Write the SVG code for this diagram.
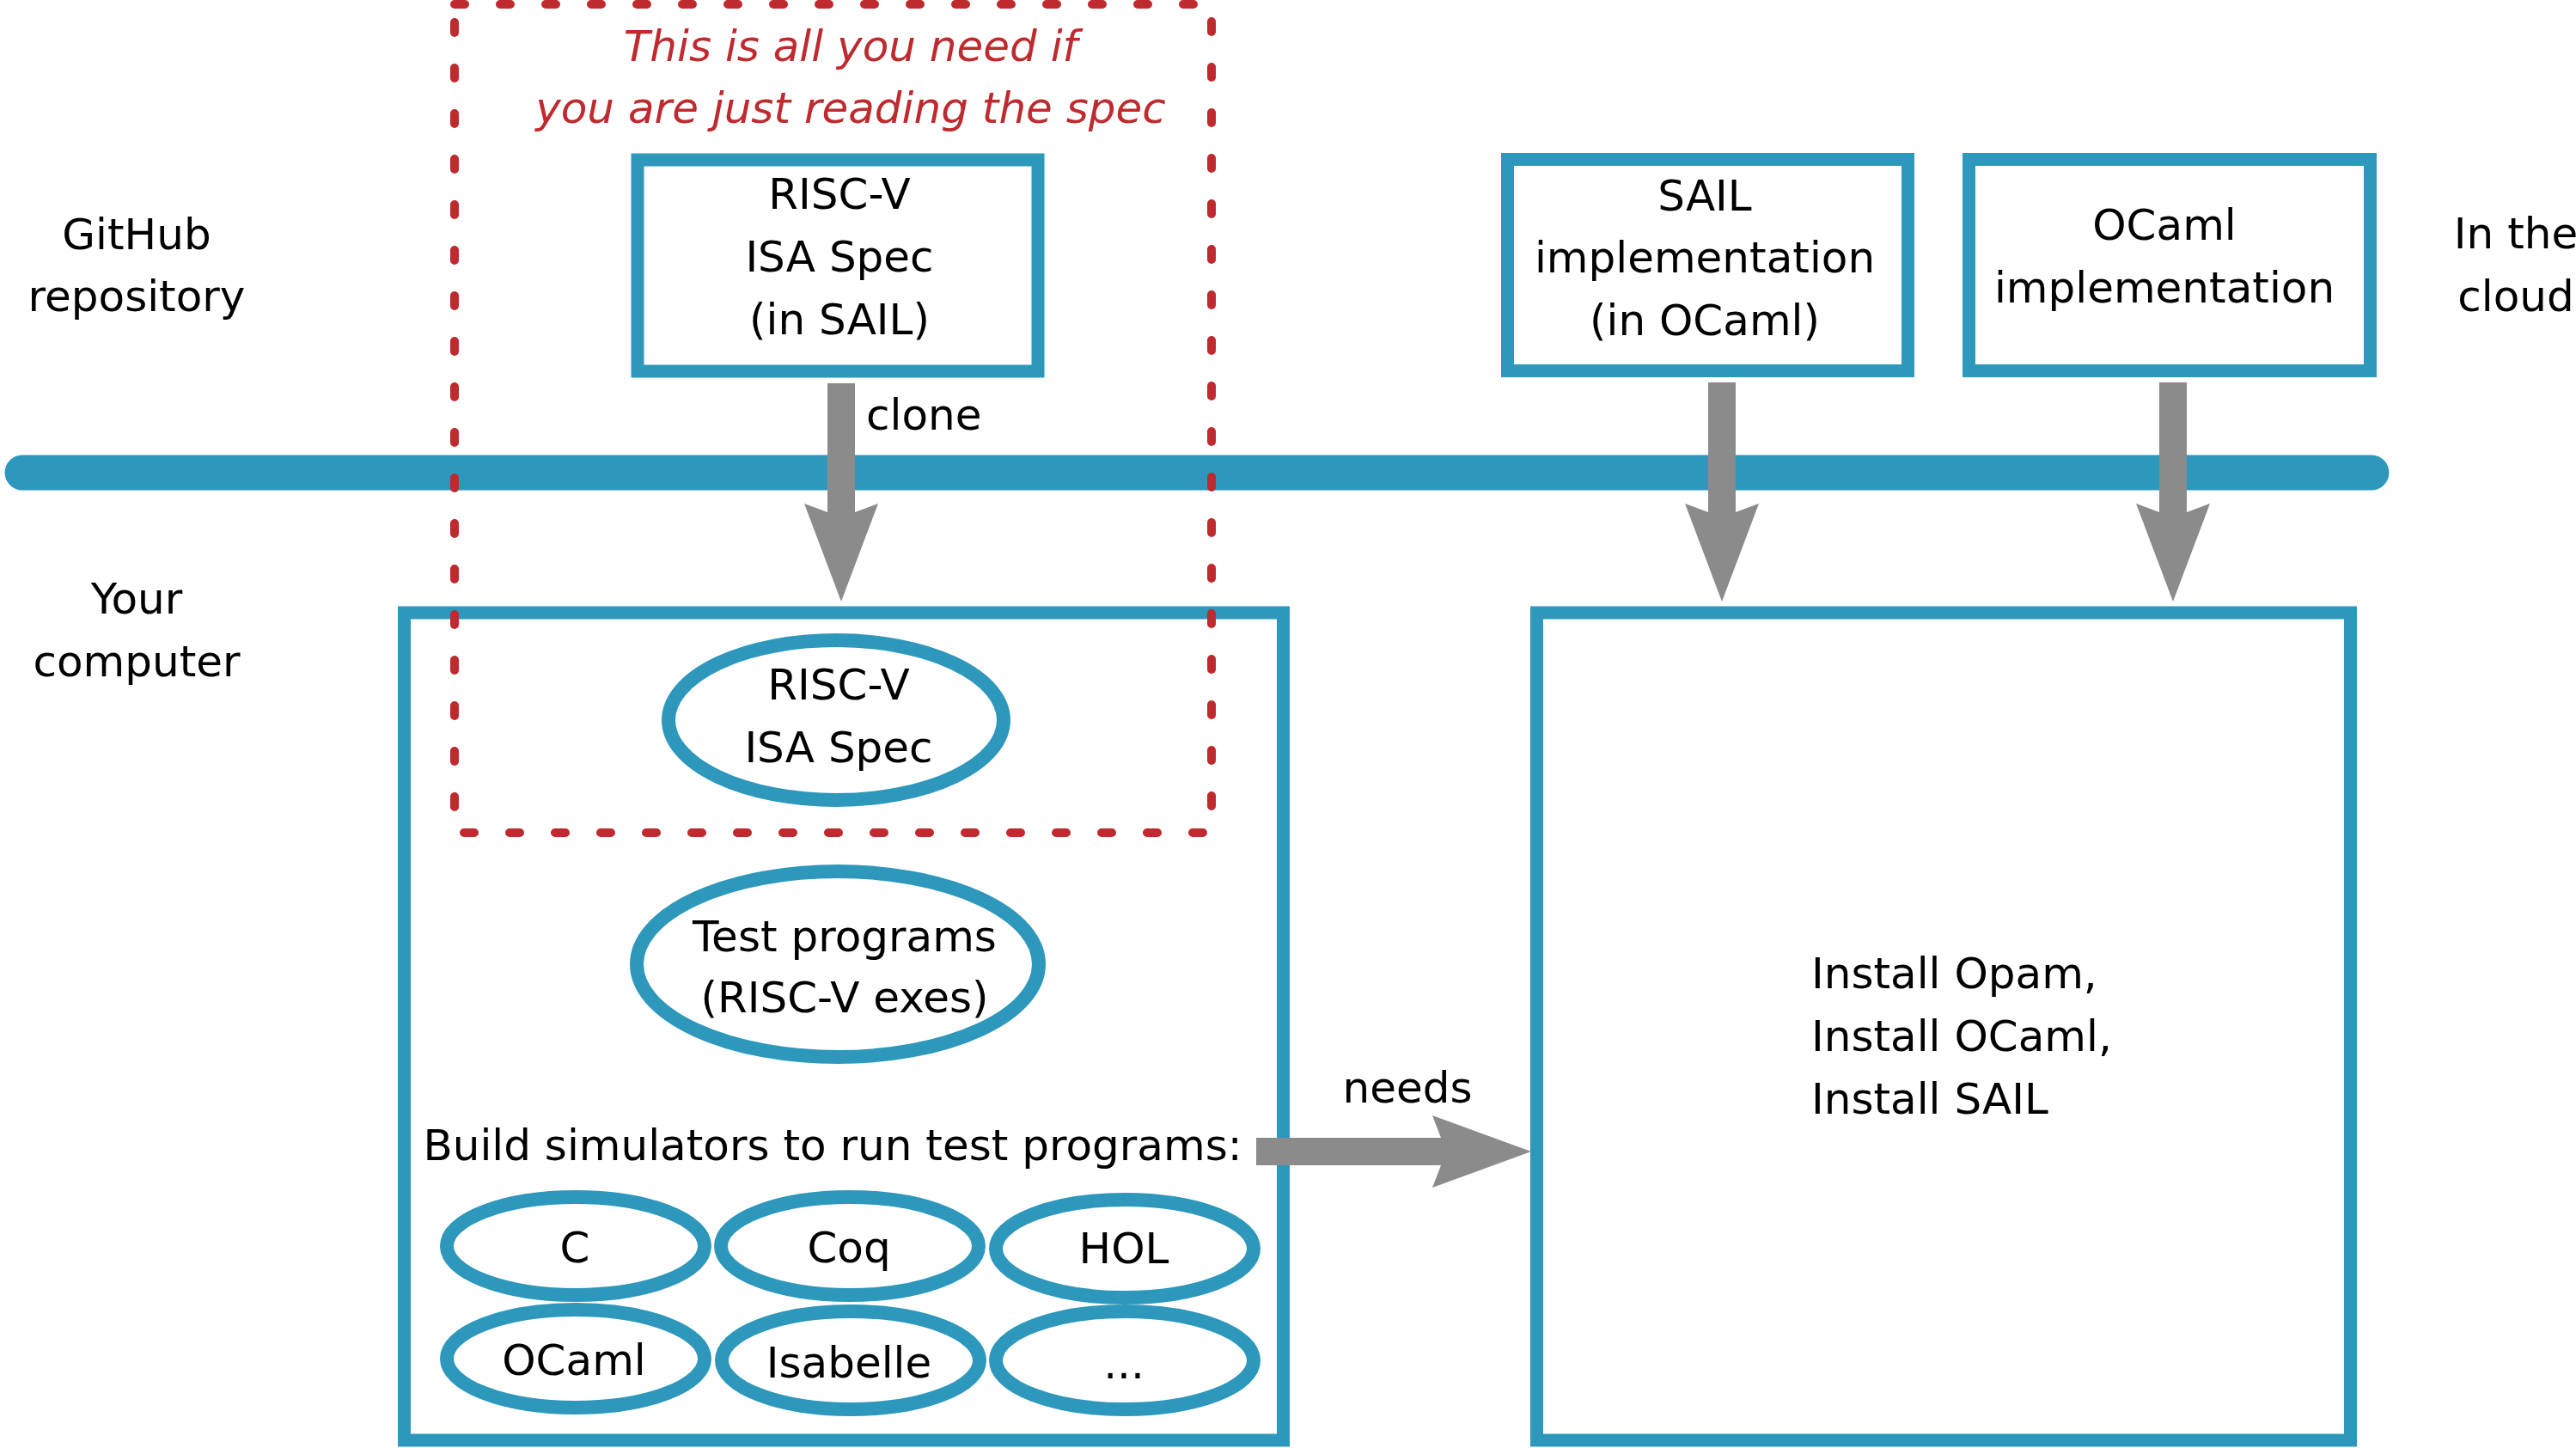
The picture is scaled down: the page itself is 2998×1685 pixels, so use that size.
<svg xmlns="http://www.w3.org/2000/svg" width="2998" height="1685" viewBox="0 0 2998 1685">
<style>
  text { font-family: "DejaVu Sans", "Liberation Sans", sans-serif; font-size: 50px; fill: #000; }
  .mid { text-anchor: middle; }
  .note { fill: #bf2a2f; font-style: italic; }
  .box { fill: #fff; stroke: #2d98bb; stroke-width: 15; }
  .ell { fill: #fff; stroke: #2d98bb; stroke-width: 16; }
  .arrow { fill: #8b8b8b; stroke: none; }
  .bus { stroke: #2d98bb; stroke-width: 41; stroke-linecap: round; fill: none; }
  .dash { fill: none; stroke: #bf2a2f; stroke-width: 10; stroke-linecap: round; stroke-dasharray: 12 41; }
</style>
<rect width="2998" height="1685" fill="#fff"/>

<g id="labels">
  <text class="mid" x="159" y="290">GitHub</text>
  <text class="mid" x="159" y="362">repository</text>
  <text class="mid" x="159" y="714">Your</text>
  <text class="mid" x="159" y="787">computer</text>
  <text class="mid" x="2928" y="289">In the</text>
  <text class="mid" x="2928" y="362">cloud</text>
</g>

<line id="internet" class="bus" x1="26" y1="550" x2="2760" y2="550"/>

<g id="spec-repo">
  <rect class="box" x="742" y="186" width="466" height="246"/>
  <text class="mid" x="977" y="243">RISC-V</text>
  <text class="mid" x="977" y="316">ISA Spec</text>
  <text class="mid" x="977" y="389">(in SAIL)</text>
</g>

<g id="sail-impl">
  <rect class="box" x="1754.5" y="185.5" width="466" height="246"/>
  <text class="mid" x="1984" y="245">SAIL</text>
  <text class="mid" x="1984" y="317">implementation</text>
  <text class="mid" x="1984" y="390">(in OCaml)</text>
</g>

<g id="ocaml-impl">
  <rect class="box" x="2291.5" y="185.5" width="467" height="246"/>
  <text class="mid" x="2519" y="279">OCaml</text>
  <text class="mid" x="2519" y="352">implementation</text>
</g>

<g id="your-computer">
  <rect class="box" x="470.5" y="713" width="1023" height="963"/>
  <text class="mid" x="969" y="1350">Build simulators to run test programs:</text>
</g>

<g id="spec-local">
  <ellipse class="ell" cx="973" cy="838" rx="195" ry="93"/>
  <text class="mid" x="976" y="814">RISC-V</text>
  <text class="mid" x="976" y="887">ISA Spec</text>
</g>

<g id="test-programs">
  <ellipse class="ell" cx="975" cy="1122" rx="234" ry="108"/>
  <text class="mid" x="983" y="1107">Test programs</text>
  <text class="mid" x="983" y="1178">(RISC-V exes)</text>
</g>

<g id="sim-c">
  <ellipse class="ell" cx="670" cy="1450" rx="150" ry="57"/>
  <text class="mid" x="669" y="1469">C</text>
</g>
<g id="sim-coq">
  <ellipse class="ell" cx="989" cy="1450" rx="150" ry="57"/>
  <text class="mid" x="988" y="1469">Coq</text>
</g>
<g id="sim-hol">
  <ellipse class="ell" cx="1309" cy="1453" rx="150" ry="57"/>
  <text class="mid" x="1308" y="1470">HOL</text>
</g>
<g id="sim-ocaml">
  <ellipse class="ell" cx="670" cy="1581" rx="150" ry="57"/>
  <text class="mid" x="668" y="1600">OCaml</text>
</g>
<g id="sim-isabelle">
  <ellipse class="ell" cx="990" cy="1583" rx="150" ry="57"/>
  <text class="mid" x="988" y="1603">Isabelle</text>
</g>
<g id="sim-more">
  <ellipse class="ell" cx="1309" cy="1583" rx="150" ry="57"/>
  <text class="mid" x="1308" y="1604">...</text>
</g>

<g id="install-box">
  <rect class="box" x="1788.5" y="713" width="947" height="963"/>
  <text x="2108" y="1150">Install Opam,</text>
  <text x="2108" y="1223">Install OCaml,</text>
  <text x="2108" y="1296">Install SAIL</text>
</g>

<g id="connectors">
  <path class="arrow" d="M963,446 L995,446 L995,596 L1022,586 L979,700 L936,586 L963,596 Z"/>
  <text x="1008" y="500">clone</text>
  <path class="arrow" d="M1988,445 L2020,445 L2020,596 L2047,586 L2004,700 L1961,586 L1988,596 Z"/>
  <path class="arrow" d="M2513,445 L2545,445 L2545,596 L2572,586 L2529,700 L2486,586 L2513,596 Z"/>
  <path class="arrow" d="M1462,1324 L1677,1324 L1667,1298 L1782,1340 L1667,1382 L1677,1356 L1462,1356 Z"/>
  <text class="mid" x="1638" y="1283">needs</text>
</g>

<g id="reading-spec-scope">
  <rect class="dash" x="529" y="5" width="881" height="964"/>
  <text class="mid note" x="990" y="71">This is all you need if</text>
  <text class="mid note" x="990" y="143">you are just reading the spec</text>
</g>
</svg>
